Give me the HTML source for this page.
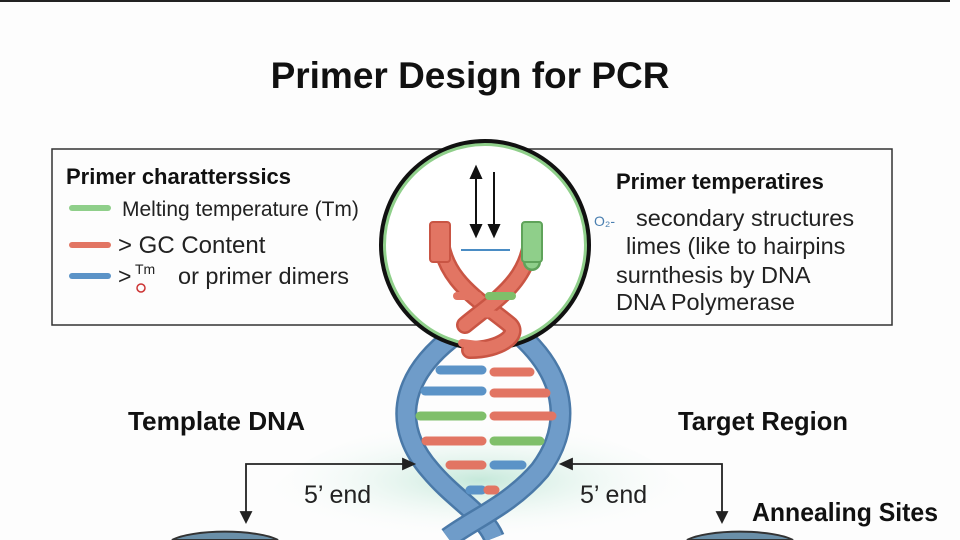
<!DOCTYPE html>
<html><head><meta charset="utf-8"><style>
html,body{margin:0;background:#fff;overflow:hidden;width:960px;height:540px}
svg{display:block}
text{font-family:"Liberation Sans","DejaVu Sans",sans-serif}
</style></head><body>
<svg width="960" height="540" viewBox="0 0 960 540">
<defs>
<radialGradient id="mist" cx="0.5" cy="0.5" r="0.5">
<stop offset="0" stop-color="#bfe6d6" stop-opacity="0.9"/>
<stop offset="1" stop-color="#ffffff" stop-opacity="0"/>
</radialGradient>
</defs>
<rect width="960" height="540" fill="#fdfdfd"/>
<line x1="0" y1="1" x2="950" y2="1" stroke="#222" stroke-width="2"/>
<path d="M250 540 A230 120 0 0 1 710 540 Z" fill="url(#mist)"/>
<text x="470" y="88" font-size="37" font-weight="bold" text-anchor="middle" fill="#111">Primer Design for PCR</text>
<rect x="52" y="149" width="840" height="176" fill="none" stroke="#333" stroke-width="1.5"/>
<text x="66" y="184" font-size="22" font-weight="bold" fill="#111">Primer charatterssics</text>
<line x1="72" y1="208" x2="108" y2="208" stroke="#8fcf8a" stroke-width="6" stroke-linecap="round"/>
<text x="122" y="216" font-size="21" fill="#222">Melting temperature (Tm)</text>
<line x1="72" y1="245" x2="108" y2="245" stroke="#e27563" stroke-width="6" stroke-linecap="round"/>
<text x="118" y="253" font-size="24" fill="#222">&gt; GC Content</text>
<line x1="72" y1="276" x2="108" y2="276" stroke="#5b93c7" stroke-width="6" stroke-linecap="round"/>
<text x="118" y="284" font-size="23" fill="#222">&gt;</text>
<text x="135" y="274" font-size="14" fill="#222">Tm</text>
<circle cx="141" cy="288" r="4" fill="none" stroke="#c33" stroke-width="1.5"/>
<text x="178" y="284" font-size="23.5" fill="#222">or primer dimers</text>
<text x="616" y="189" font-size="22" font-weight="bold" fill="#111">Primer temperatires</text>
<text x="594" y="226" font-size="14" fill="#4a7fb0">O₂-</text>
<text x="636" y="226" font-size="23.5" fill="#222">secondary structures</text>
<text x="626" y="254" font-size="23.5" fill="#222">limes (like to hairpins</text>
<text x="616" y="283" font-size="23.5" fill="#222">surnthesis by DNA</text>
<text x="616" y="310" font-size="23.5" fill="#222">DNA Polymerase</text>
<g>
<path d="M455 335 C395 380,395 430,430 470 C455 500,485 515,494 538" fill="none" stroke="#4a79a8" stroke-width="22"/>
<path d="M455 335 C395 380,395 430,430 470 C455 500,485 515,494 538" fill="none" stroke="#6f9cc9" stroke-width="17"/>
<path d="M520 335 C570 380,570 430,540 470 C510 505,475 518,448 538" fill="none" stroke="#4a79a8" stroke-width="22"/>
<path d="M520 335 C570 380,570 430,540 470 C510 505,475 518,448 538" fill="none" stroke="#6f9cc9" stroke-width="17"/>
<g stroke-width="9" stroke-linecap="round">
<line x1="440" y1="370" x2="482" y2="370" stroke="#5b93c7"/><line x1="494" y1="372" x2="530" y2="372" stroke="#e27563"/>
<line x1="425" y1="391" x2="482" y2="391" stroke="#5b93c7"/><line x1="494" y1="393" x2="546" y2="393" stroke="#e27563"/>
<line x1="420" y1="416" x2="482" y2="416" stroke="#7fbf6a"/><line x1="494" y1="416" x2="552" y2="416" stroke="#e27563"/>
<line x1="426" y1="441" x2="482" y2="441" stroke="#e27563"/><line x1="494" y1="441" x2="540" y2="441" stroke="#7fbf6a"/>
<line x1="450" y1="465" x2="482" y2="465" stroke="#e27563"/><line x1="494" y1="465" x2="522" y2="465" stroke="#5b93c7"/>
<line x1="470" y1="490" x2="482" y2="490" stroke="#5b93c7"/><line x1="488" y1="490" x2="495" y2="490" stroke="#e27563"/>
</g>
</g>
<circle cx="485" cy="245" r="101" fill="#fff" stroke="#8fcf8a" stroke-width="4"/>
<circle cx="485" cy="245" r="104" fill="none" stroke="#111" stroke-width="4"/>
<g stroke-linecap="round">
<path d="M440 230 C440 280,480 300,510 325 C520 335,500 350,470 350" fill="none" stroke="#c95544" stroke-width="18"/>
<path d="M440 230 C440 280,480 300,510 325 C520 335,500 350,470 350" fill="none" stroke="#e27563" stroke-width="13"/>
<path d="M532 230 C532 280,495 300,465 325" fill="none" stroke="#c95544" stroke-width="18"/>
<path d="M532 230 C532 280,495 300,465 325" fill="none" stroke="#e27563" stroke-width="13"/>
<path d="M532 230 L532 262" stroke="#5fa35a" stroke-width="18"/>
<path d="M532 230 L532 262" stroke="#8fcf8a" stroke-width="13"/>
<rect x="430" y="222" width="20" height="40" rx="3" fill="#e27563" stroke="#c95544" stroke-width="2"/>
<rect x="522" y="222" width="20" height="40" rx="3" fill="#8fcf8a" stroke="#5fa35a" stroke-width="2"/>
<line x1="457" y1="296" x2="478" y2="296" stroke="#e27563" stroke-width="8"/>
<line x1="489" y1="296" x2="512" y2="296" stroke="#7fbf6a" stroke-width="8"/>
<line x1="475" y1="314" x2="495" y2="314" stroke="#e27563" stroke-width="7"/>
<line x1="462" y1="343" x2="486" y2="346" stroke="#e27563" stroke-width="8"/>
</g>
<line x1="461" y1="250" x2="510" y2="250" stroke="#4a8cc4" stroke-width="2"/>
<g stroke="#111" stroke-width="2" fill="#111">
<line x1="476" y1="175" x2="476" y2="230"/><polygon points="471,178 481,178 476,167"/><polygon points="471,225 481,225 476,236"/>
<line x1="494" y1="172" x2="494" y2="230"/><polygon points="489,225 499,225 494,236"/>
</g>
<text x="128" y="430" font-size="26" font-weight="bold" fill="#111" textLength="177" lengthAdjust="spacingAndGlyphs">Template DNA</text>
<text x="678" y="430" font-size="26" font-weight="bold" fill="#111" textLength="170" lengthAdjust="spacingAndGlyphs">Target Region</text>
<g stroke="#222" stroke-width="1.8" fill="#222">
<polyline points="246,522 246,464 405,464" fill="none"/><polygon points="403,459 414,464 403,469"/><polygon points="241,512 251,512 246,522"/>
<polyline points="570,464 722,464 722,522" fill="none"/><polygon points="572,459 561,464 572,469"/><polygon points="717,512 727,512 722,522"/>
</g>
<text x="304" y="503" font-size="25" fill="#222">5’ end</text>
<text x="580" y="503" font-size="25" fill="#222">5’ end</text>
<text x="752" y="521" font-size="26" font-weight="bold" fill="#111" textLength="186" lengthAdjust="spacingAndGlyphs">Annealing Sites</text>
<path d="M172 540 A58 14 0 0 1 278 540 Z" fill="#6a8fa8" stroke="#333" stroke-width="2"/>
<path d="M687 540 A58 14 0 0 1 793 540 Z" fill="#6a8fa8" stroke="#333" stroke-width="2"/>
</svg>
</body></html>
